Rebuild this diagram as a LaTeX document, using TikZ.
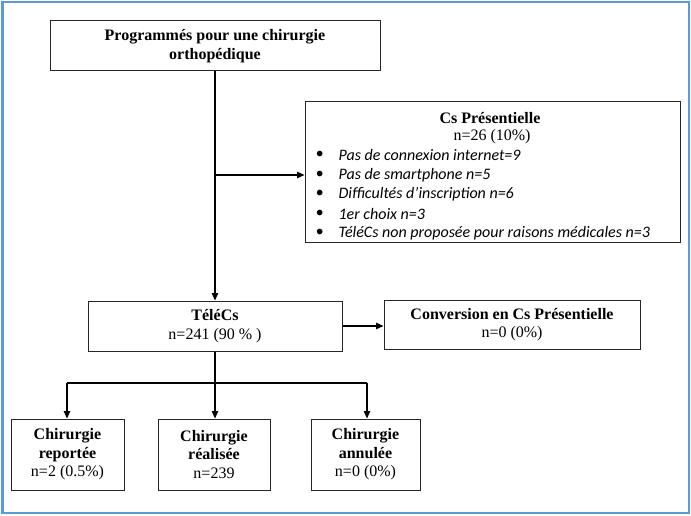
\documentclass[tikz,border=0pt]{standalone}
\usepackage{fontspec}
\setmainfont{Liberation Serif}
\newfontfamily\listfont{Carlito}
\usetikzlibrary{arrows.meta}
\definecolor{frameblue}{RGB}{91,155,213}
\tikzset{
  box/.style={draw=black!85, line width=1pt, align=center, inner sep=0pt},
  txt/.style={align=center, font=\fontsize{16}{18.5}\selectfont},
  item/.style={anchor=west, inner sep=0pt, font=\listfont\itshape\fontsize{16}{18}\selectfont},
}
\begin{document}
\begin{tikzpicture}[x=1pt, y=-1pt, >={Triangle[length=7.5pt,width=6.5pt]}, line width=1.1pt]
  \useasboundingbox (0,0) rectangle (691,516);
  %outer frame
  \draw[frameblue, line width=2.5pt] (2.5,2) rectangle (689,513);

  %boxes
  \node[box, txt, minimum width=330, minimum height=50] (prog) at (215,46)
    {\bfseries Programmés pour une chirurgie\\\bfseries orthopédique};
  \node[box, minimum width=375, minimum height=140] (cs) at (492.5,172) {};
  \node[txt] (cshead) at (490,118) {\bfseries Cs Présentielle};
  \node[txt] (csn) at (492,137) {n=26 (10\%)};
  \foreach \y/\t in {155/Pas de connexion internet=9, 175/Pas de smartphone n=5,
      194/Difficultés d’inscription n=6, 214/1er choix n=3,
      233/TéléCs non proposée pour raisons médicales n=3}{
    \node[item] (bul-\y) at (315,\y) {•};
    \node[item] (it-\y) at (338,\y) {\t};
  }
  \node[box, txt, minimum width=254, minimum height=50] (telecs) at (215,326)
    {\bfseries TéléCs\\n=241 (90 \% )};
  \node[box, txt, minimum width=256, minimum height=49] (conv) at (512,324.5)
    {\bfseries Conversion en Cs Présentielle\\n=0 (0\%)};

  \node[box, txt, minimum width=113, minimum height=71] (rep) at (67.5,454.5)
    {\bfseries Chirurgie\\\bfseries reportée\\n=2 (0.5\%)};
  \node[box, txt, minimum width=112, minimum height=71] (real) at (214,454.5)
    {\bfseries Chirurgie\\\bfseries réalisée\\n=239};
  \node[box, txt, minimum width=109, minimum height=71] (ann) at (365.5,454.5)
    {\bfseries Chirurgie\\\bfseries annulée\\n=0 (0\%)};

  %connectors
  \draw[->] (prog.south) -- (telecs.north);
  \draw[->] (prog.south |- 0,175) -- (cs.west |- 0,175);
  \draw[->] (telecs.east) -- (telecs.east -| conv.west);

  \coordinate (split) at (215,383);
  \coordinate (splitL) at (67,383);
  \coordinate (splitR) at (367,383);
  \draw (telecs.south) -- (split);
  \draw (splitL) -- (splitR);
  \draw[->] (splitL) -- (splitL |- rep.north);
  \draw[->] (split) -- (split |- real.north);
  \draw[->] (splitR) -- (splitR |- ann.north);
\end{tikzpicture}
\end{document}
